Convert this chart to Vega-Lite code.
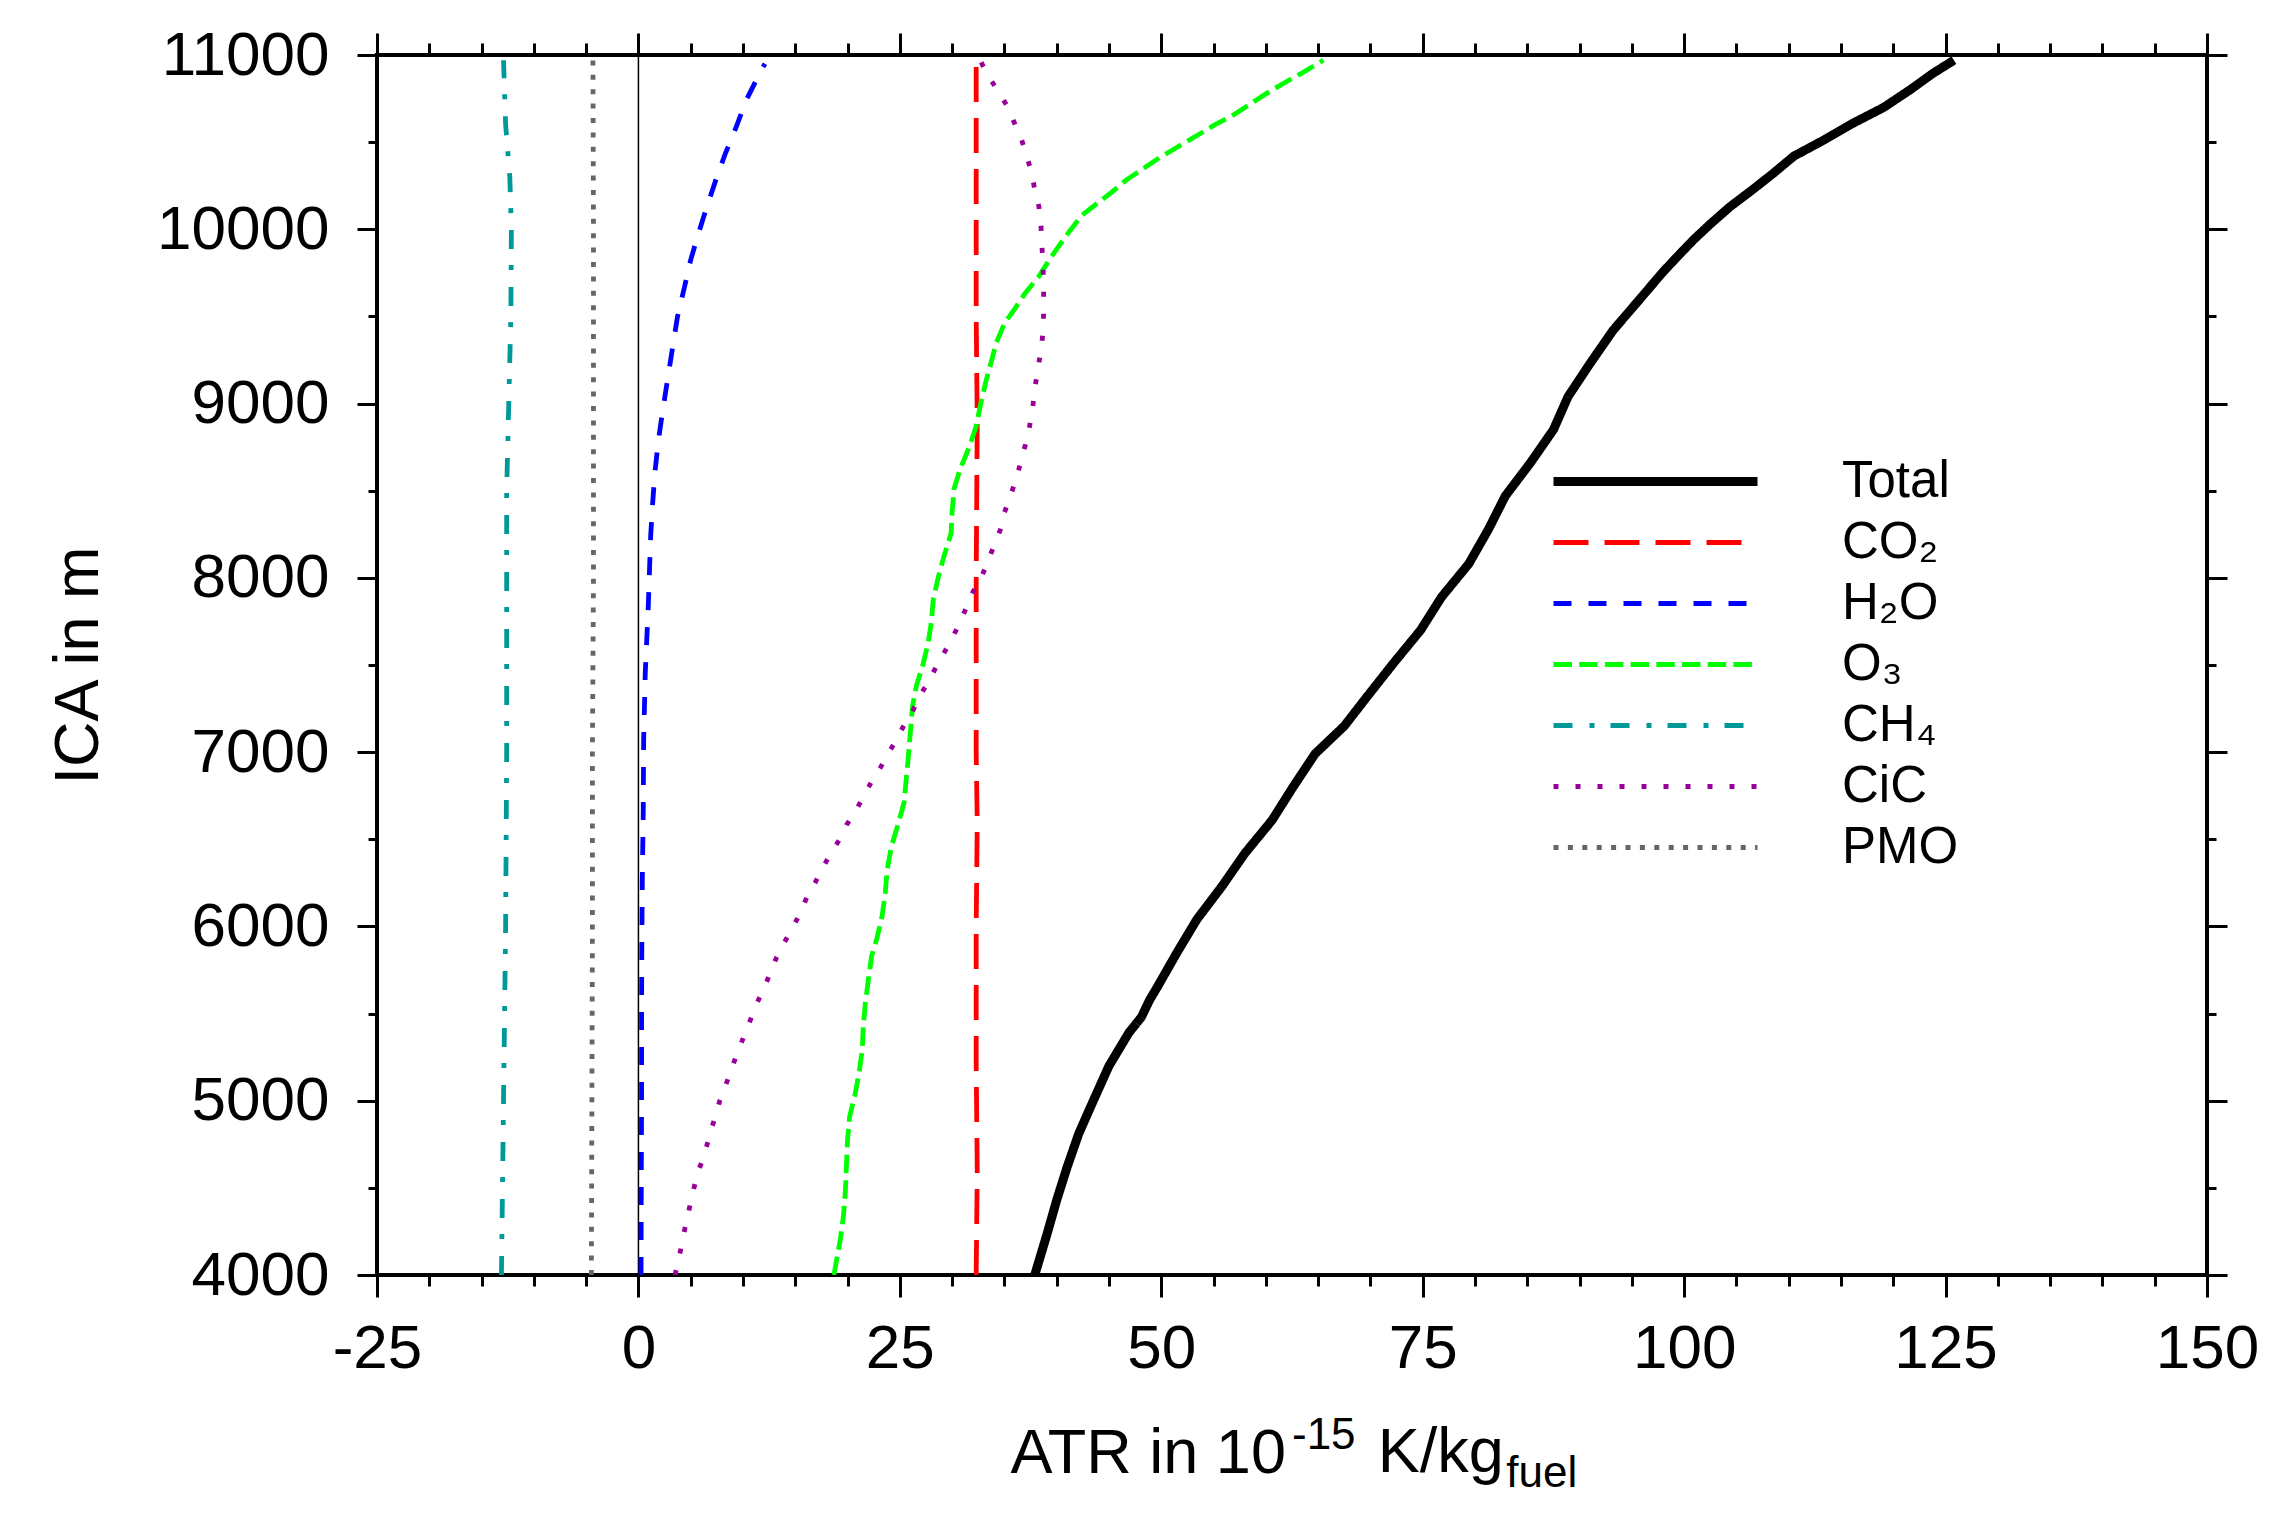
{
  "$schema": "https://vega.github.io/schema/vega-lite/v6.json",
  "width": 1830,
  "height": 1220,
  "autosize": "none",
  "padding": {"left": 377, "top": 55, "right": 77, "bottom": 242},
  "background": "white",
  "config": {
    "view": {"stroke": "black", "strokeWidth": 4},
    "axis": {"grid": false, "domain": false, "tickColor": "black", "tickWidth": 3, "labelFont": "Liberation Sans", "titleFont": "Liberation Sans", "labelColor": "black", "titleColor": "black", "titleFontWeight": "normal", "labelFlush": false, "labelOverlap": false},
    "legend": {"labelFont": "Liberation Sans"}
  },
  "data": {
    "values": [
      {"s": "Total", "a": 4000, "v": 37.9}, {"s": "Total", "a": 4240, "v": 39.1}, {"s": "Total", "a": 4430, "v": 40.0}, {"s": "Total", "a": 4620, "v": 41.0}, {"s": "Total", "a": 4810, "v": 42.1}, {"s": "Total", "a": 5000, "v": 43.5}, {"s": "Total", "a": 5200, "v": 45.0}, {"s": "Total", "a": 5390, "v": 46.9}, {"s": "Total", "a": 5480, "v": 48.1}, {"s": "Total", "a": 5580, "v": 48.9}, {"s": "Total", "a": 5650, "v": 49.6}, {"s": "Total", "a": 5850, "v": 51.5}, {"s": "Total", "a": 6040, "v": 53.4}, {"s": "Total", "a": 6230, "v": 55.8}, {"s": "Total", "a": 6420, "v": 58.0}, {"s": "Total", "a": 6610, "v": 60.6}, {"s": "Total", "a": 6800, "v": 62.6}, {"s": "Total", "a": 6990, "v": 64.7}, {"s": "Total", "a": 7150, "v": 67.5}, {"s": "Total", "a": 7320, "v": 69.7}, {"s": "Total", "a": 7510, "v": 72.2}, {"s": "Total", "a": 7700, "v": 74.8}, {"s": "Total", "a": 7890, "v": 76.8}, {"s": "Total", "a": 8080, "v": 79.4}, {"s": "Total", "a": 8280, "v": 81.3}, {"s": "Total", "a": 8470, "v": 82.9}, {"s": "Total", "a": 8660, "v": 85.3}, {"s": "Total", "a": 8850, "v": 87.5}, {"s": "Total", "a": 9040, "v": 88.9}, {"s": "Total", "a": 9230, "v": 91.0}, {"s": "Total", "a": 9420, "v": 93.2}, {"s": "Total", "a": 9630, "v": 96.2}, {"s": "Total", "a": 9750, "v": 97.9}, {"s": "Total", "a": 9840, "v": 99.3}, {"s": "Total", "a": 9940, "v": 100.9}, {"s": "Total", "a": 10030, "v": 102.5}, {"s": "Total", "a": 10130, "v": 104.4}, {"s": "Total", "a": 10230, "v": 106.6}, {"s": "Total", "a": 10320, "v": 108.5}, {"s": "Total", "a": 10420, "v": 110.5}, {"s": "Total", "a": 10510, "v": 113.3}, {"s": "Total", "a": 10610, "v": 116.2}, {"s": "Total", "a": 10700, "v": 119.1}, {"s": "Total", "a": 10800, "v": 121.6}, {"s": "Total", "a": 10895, "v": 123.8}, {"s": "Total", "a": 10970, "v": 125.8},

      {"s": "CO₂", "a": 4000, "v": 32.3}, {"s": "CO₂", "a": 4600, "v": 32.4}, {"s": "CO₂", "a": 5200, "v": 32.3}, {"s": "CO₂", "a": 6000, "v": 32.3}, {"s": "CO₂", "a": 6600, "v": 32.4}, {"s": "CO₂", "a": 7000, "v": 32.3}, {"s": "CO₂", "a": 8000, "v": 32.3}, {"s": "CO₂", "a": 8900, "v": 32.4}, {"s": "CO₂", "a": 9500, "v": 32.3}, {"s": "CO₂", "a": 10500, "v": 32.3}, {"s": "CO₂", "a": 10970, "v": 32.3},

      {"s": "H₂O", "a": 4000, "v": 0.25}, {"s": "H₂O", "a": 4500, "v": 0.27}, {"s": "H₂O", "a": 5000, "v": 0.3}, {"s": "H₂O", "a": 5480, "v": 0.3}, {"s": "H₂O", "a": 5850, "v": 0.32}, {"s": "H₂O", "a": 6270, "v": 0.37}, {"s": "H₂O", "a": 6650, "v": 0.46}, {"s": "H₂O", "a": 7070, "v": 0.5}, {"s": "H₂O", "a": 7450, "v": 0.65}, {"s": "H₂O", "a": 7835, "v": 0.94}, {"s": "H₂O", "a": 8240, "v": 1.17}, {"s": "H₂O", "a": 8420, "v": 1.35}, {"s": "H₂O", "a": 8600, "v": 1.57}, {"s": "H₂O", "a": 8780, "v": 1.89}, {"s": "H₂O", "a": 8955, "v": 2.31}, {"s": "H₂O", "a": 9135, "v": 2.78}, {"s": "H₂O", "a": 9320, "v": 3.26}, {"s": "H₂O", "a": 9500, "v": 3.74}, {"s": "H₂O", "a": 9660, "v": 4.37}, {"s": "H₂O", "a": 9825, "v": 5.0}, {"s": "H₂O", "a": 9987, "v": 5.8}, {"s": "H₂O", "a": 10140, "v": 6.6}, {"s": "H₂O", "a": 10293, "v": 7.46}, {"s": "H₂O", "a": 10436, "v": 8.32}, {"s": "H₂O", "a": 10590, "v": 9.37}, {"s": "H₂O", "a": 10742, "v": 10.32}, {"s": "H₂O", "a": 10914, "v": 11.75}, {"s": "H₂O", "a": 10950, "v": 12.1},

      {"s": "O₃", "a": 4000, "v": 18.7}, {"s": "O₃", "a": 4070, "v": 18.9}, {"s": "O₃", "a": 4200, "v": 19.3}, {"s": "O₃", "a": 4335, "v": 19.6}, {"s": "O₃", "a": 4490, "v": 19.8}, {"s": "O₃", "a": 4640, "v": 19.9}, {"s": "O₃", "a": 4775, "v": 20.0}, {"s": "O₃", "a": 4910, "v": 20.2}, {"s": "O₃", "a": 5030, "v": 20.7}, {"s": "O₃", "a": 5160, "v": 21.1}, {"s": "O₃", "a": 5290, "v": 21.4}, {"s": "O₃", "a": 5425, "v": 21.5}, {"s": "O₃", "a": 5560, "v": 21.7}, {"s": "O₃", "a": 5700, "v": 22.0}, {"s": "O₃", "a": 5830, "v": 22.3}, {"s": "O₃", "a": 5930, "v": 22.8}, {"s": "O₃", "a": 6060, "v": 23.3}, {"s": "O₃", "a": 6190, "v": 23.6}, {"s": "O₃", "a": 6330, "v": 23.8}, {"s": "O₃", "a": 6460, "v": 24.2}, {"s": "O₃", "a": 6580, "v": 24.8}, {"s": "O₃", "a": 6710, "v": 25.4}, {"s": "O₃", "a": 6840, "v": 25.6}, {"s": "O₃", "a": 6965, "v": 25.8}, {"s": "O₃", "a": 7110, "v": 26.0}, {"s": "O₃", "a": 7260, "v": 26.2}, {"s": "O₃", "a": 7385, "v": 26.6}, {"s": "O₃", "a": 7500, "v": 27.2}, {"s": "O₃", "a": 7625, "v": 27.7}, {"s": "O₃", "a": 7740, "v": 28.0}, {"s": "O₃", "a": 7880, "v": 28.2}, {"s": "O₃", "a": 8010, "v": 28.7}, {"s": "O₃", "a": 8120, "v": 29.2}, {"s": "O₃", "a": 8256, "v": 29.9}, {"s": "O₃", "a": 8380, "v": 30.0}, {"s": "O₃", "a": 8515, "v": 30.2}, {"s": "O₃", "a": 8630, "v": 30.8}, {"s": "O₃", "a": 8745, "v": 31.6}, {"s": "O₃", "a": 8870, "v": 32.3}, {"s": "O₃", "a": 8990, "v": 32.7}, {"s": "O₃", "a": 9120, "v": 33.2}, {"s": "O₃", "a": 9230, "v": 33.7}, {"s": "O₃", "a": 9345, "v": 34.2}, {"s": "O₃", "a": 9460, "v": 35.0}, {"s": "O₃", "a": 9545, "v": 36.0}, {"s": "O₃", "a": 9635, "v": 37.0}, {"s": "O₃", "a": 9730, "v": 38.3}, {"s": "O₃", "a": 9835, "v": 39.4}, {"s": "O₃", "a": 9920, "v": 40.4}, {"s": "O₃", "a": 9995, "v": 41.3}, {"s": "O₃", "a": 10080, "v": 42.4}, {"s": "O₃", "a": 10150, "v": 43.9}, {"s": "O₃", "a": 10215, "v": 45.3}, {"s": "O₃", "a": 10285, "v": 46.7}, {"s": "O₃", "a": 10345, "v": 48.2}, {"s": "O₃", "a": 10410, "v": 49.8}, {"s": "O₃", "a": 10484, "v": 51.9}, {"s": "O₃", "a": 10541, "v": 53.5}, {"s": "O₃", "a": 10599, "v": 55.1}, {"s": "O₃", "a": 10656, "v": 56.9}, {"s": "O₃", "a": 10719, "v": 58.5}, {"s": "O₃", "a": 10777, "v": 60.0}, {"s": "O₃", "a": 10838, "v": 61.7}, {"s": "O₃", "a": 10895, "v": 63.4}, {"s": "O₃", "a": 10970, "v": 65.5},

      {"s": "CH₄", "a": 4000, "v": -13.1}, {"s": "CH₄", "a": 5000, "v": -12.9}, {"s": "CH₄", "a": 6000, "v": -12.7}, {"s": "CH₄", "a": 7000, "v": -12.6}, {"s": "CH₄", "a": 8000, "v": -12.6}, {"s": "CH₄", "a": 8500, "v": -12.6}, {"s": "CH₄", "a": 9000, "v": -12.4}, {"s": "CH₄", "a": 9500, "v": -12.2}, {"s": "CH₄", "a": 10000, "v": -12.15}, {"s": "CH₄", "a": 10300, "v": -12.3}, {"s": "CH₄", "a": 10600, "v": -12.7}, {"s": "CH₄", "a": 10970, "v": -12.9},

      {"s": "CiC", "a": 4000, "v": 3.5}, {"s": "CiC", "a": 4134, "v": 4.0}, {"s": "CiC", "a": 4254, "v": 4.4}, {"s": "CiC", "a": 4377, "v": 4.85}, {"s": "CiC", "a": 4497, "v": 5.3}, {"s": "CiC", "a": 4607, "v": 5.8}, {"s": "CiC", "a": 4698, "v": 6.35}, {"s": "CiC", "a": 4803, "v": 6.8}, {"s": "CiC", "a": 4899, "v": 7.3}, {"s": "CiC", "a": 5004, "v": 7.8}, {"s": "CiC", "a": 5090, "v": 8.35}, {"s": "CiC", "a": 5190, "v": 8.95}, {"s": "CiC", "a": 5281, "v": 9.5}, {"s": "CiC", "a": 5371, "v": 10.1}, {"s": "CiC", "a": 5463, "v": 10.7}, {"s": "CiC", "a": 5555, "v": 11.3}, {"s": "CiC", "a": 5645, "v": 12.0}, {"s": "CiC", "a": 5731, "v": 12.6}, {"s": "CiC", "a": 5821, "v": 13.2}, {"s": "CiC", "a": 5903, "v": 13.9}, {"s": "CiC", "a": 5999, "v": 14.8}, {"s": "CiC", "a": 6079, "v": 15.5}, {"s": "CiC", "a": 6167, "v": 16.1}, {"s": "CiC", "a": 6251, "v": 16.9}, {"s": "CiC", "a": 6334, "v": 17.6}, {"s": "CiC", "a": 6420, "v": 18.4}, {"s": "CiC", "a": 6496, "v": 19.2}, {"s": "CiC", "a": 6582, "v": 19.9}, {"s": "CiC", "a": 6664, "v": 20.8}, {"s": "CiC", "a": 6745, "v": 21.5}, {"s": "CiC", "a": 6831, "v": 22.3}, {"s": "CiC", "a": 6907, "v": 23.1}, {"s": "CiC", "a": 6994, "v": 23.9}, {"s": "CiC", "a": 7073, "v": 24.7}, {"s": "CiC", "a": 7156, "v": 25.4}, {"s": "CiC", "a": 7232, "v": 26.2}, {"s": "CiC", "a": 7322, "v": 26.9}, {"s": "CiC", "a": 7401, "v": 27.7}, {"s": "CiC", "a": 7481, "v": 28.4}, {"s": "CiC", "a": 7567, "v": 29.2}, {"s": "CiC", "a": 7653, "v": 30.0}, {"s": "CiC", "a": 7739, "v": 30.7}, {"s": "CiC", "a": 7835, "v": 31.4}, {"s": "CiC", "a": 7921, "v": 32.0}, {"s": "CiC", "a": 8003, "v": 32.8}, {"s": "CiC", "a": 8093, "v": 33.4}, {"s": "CiC", "a": 8185, "v": 34.0}, {"s": "CiC", "a": 8275, "v": 34.6}, {"s": "CiC", "a": 8374, "v": 35.0}, {"s": "CiC", "a": 8476, "v": 35.6}, {"s": "CiC", "a": 8562, "v": 36.1}, {"s": "CiC", "a": 8673, "v": 36.6}, {"s": "CiC", "a": 8763, "v": 37.0}, {"s": "CiC", "a": 8868, "v": 37.4}, {"s": "CiC", "a": 8973, "v": 37.7}, {"s": "CiC", "a": 9084, "v": 37.9}, {"s": "CiC", "a": 9197, "v": 38.2}, {"s": "CiC", "a": 9308, "v": 38.5}, {"s": "CiC", "a": 9417, "v": 38.7}, {"s": "CiC", "a": 9528, "v": 38.75}, {"s": "CiC", "a": 9652, "v": 38.75}, {"s": "CiC", "a": 9771, "v": 38.7}, {"s": "CiC", "a": 9891, "v": 38.6}, {"s": "CiC", "a": 10015, "v": 38.5}, {"s": "CiC", "a": 10130, "v": 38.3}, {"s": "CiC", "a": 10226, "v": 37.9}, {"s": "CiC", "a": 10325, "v": 37.6}, {"s": "CiC", "a": 10427, "v": 37.1}, {"s": "CiC", "a": 10522, "v": 36.6}, {"s": "CiC", "a": 10618, "v": 35.9}, {"s": "CiC", "a": 10704, "v": 35.3}, {"s": "CiC", "a": 10781, "v": 34.5}, {"s": "CiC", "a": 10857, "v": 33.7}, {"s": "CiC", "a": 10943, "v": 32.9}, {"s": "CiC", "a": 10970, "v": 32.7},

      {"s": "PMO", "a": 4000, "v": -4.5}, {"s": "PMO", "a": 5000, "v": -4.45}, {"s": "PMO", "a": 6000, "v": -4.4}, {"s": "PMO", "a": 7000, "v": -4.4}, {"s": "PMO", "a": 8000, "v": -4.3}, {"s": "PMO", "a": 9000, "v": -4.3}, {"s": "PMO", "a": 10000, "v": -4.3}, {"s": "PMO", "a": 10970, "v": -4.35}
    ]
  },
  "resolve": {"axis": {"x": "independent", "y": "independent"}},
  "layer": [
    {
      "data": {"values": [{}]},
      "mark": {"type": "rule", "color": "black", "strokeWidth": 1.5},
      "encoding": {
        "x": {"datum": 0, "type": "quantitative",
          "axis": {"orient": "bottom", "values": [-25, -20, -15, -10, -5, 0, 5, 10, 15, 20, 25, 30, 35, 40, 45, 50, 55, 60, 65, 70, 75, 80, 85, 90, 95, 100, 105, 110, 115, 120, 125, 130, 135, 140, 145, 150], "tickSize": 11, "labels": false, "title": null}},
        "y": {"datum": 4000, "type": "quantitative",
          "axis": {"orient": "left", "values": [4000, 4500, 5000, 5500, 6000, 6500, 7000, 7500, 8000, 8500, 9000, 9500, 10000, 10500, 11000], "tickSize": 9, "labels": false, "title": null}},
        "y2": {"datum": 11000}
      }
    },
    {
      "transform": [{"filter": "datum.s !== 'Total'"}],
      "mark": {"type": "line", "clip": true, "strokeWidth": 4.8},
      "encoding": {
        "x": {"field": "v", "type": "quantitative",
          "scale": {"domain": [-25, 150], "nice": false, "zero": false},
          "axis": {"orient": "bottom", "values": [-25, 0, 25, 50, 75, 100, 125, 150], "tickSize": 22, "labelFontSize": 62, "labelPadding": 21, "labelExpr": "'' + datum.value",
            "title": "ATR in 10", "titleFontSize": 63, "titleX": 633, "titleY": 197, "titleAlign": "left", "titleBaseline": "alphabetic"}},
        "y": {"field": "a", "type": "quantitative",
          "scale": {"domain": [4000, 11000], "nice": false, "zero": false},
          "axis": {"orient": "left", "values": [4000, 5000, 6000, 7000, 8000, 9000, 10000, 11000], "tickSize": 20, "labelFontSize": 62, "labelPadding": 28, "labelExpr": "'' + datum.value",
            "title": "ICA in m", "titleFontSize": 63, "titleAngle": -90, "titleX": -280, "titleY": 610, "titleAlign": "center", "titleBaseline": "alphabetic"}},
        "order": {"field": "a", "type": "quantitative"},
        "color": {"field": "s", "type": "nominal",
          "scale": {"domain": ["Total", "CO₂", "H₂O", "O₃", "CH₄", "CiC", "PMO"], "range": ["#000000", "#ff0000", "#0000ff", "#00ff00", "#009999", "#990099", "#666666"]},
          "legend": {"orient": "none", "legendX": 1174, "legendY": 396, "title": null, "symbolType": "stroke", "symbolSize": 41616, "clipHeight": 61, "rowPadding": 0, "labelOffset": 82, "labelFontSize": 51, "labelColor": "black", "labelLimit": 500, "padding": 0,
            "encode": {"symbols": {"update": {"strokeWidth": {"signal": "(datum.value === 'Total' ? 9 : 5)"}}}}}},
        "strokeDash": {"field": "s", "type": "nominal",
          "scale": {"domain": ["Total", "CO₂", "H₂O", "O₃", "CH₄", "CiC", "PMO"], "range": [[1, 0], [35, 16], [18, 17], [18.5, 7.2], [19, 17, 5, 16], [5, 17], [5, 9.4]]},
          "legend": {"orient": "none", "legendX": 1174, "legendY": 396, "title": null, "symbolType": "stroke", "symbolSize": 41616, "clipHeight": 61, "rowPadding": 0, "labelOffset": 82, "labelFontSize": 51, "labelColor": "black", "labelLimit": 500, "padding": 0,
            "encode": {"symbols": {"update": {"strokeWidth": {"signal": "(datum.value === 'Total' ? 9 : 5)"}}}}}}
      }
    },
    {
      "transform": [{"filter": "datum.s === 'Total'"}],
      "mark": {"type": "line", "clip": true, "strokeWidth": 9},
      "encoding": {
        "x": {"field": "v", "type": "quantitative",
          "axis": {"orient": "top", "values": [-25, 0, 25, 50, 75, 100, 125, 150], "tickSize": 22, "labels": false, "title": null}},
        "y": {"field": "a", "type": "quantitative",
          "axis": {"orient": "right", "values": [4000, 5000, 6000, 7000, 8000, 9000, 10000, 11000], "tickSize": 20, "labels": false, "title": null}},
        "order": {"field": "a", "type": "quantitative"},
        "color": {"field": "s", "type": "nominal"},
        "strokeDash": {"field": "s", "type": "nominal"}
      }
    },
    {
      "data": {"values": [{"t": "-15"}]},
      "mark": {"type": "text", "font": "Liberation Sans", "fontSize": 44, "align": "left", "baseline": "alphabetic", "color": "black"},
      "encoding": {
        "text": {"field": "t"},
        "x": {"datum": 62.5, "type": "quantitative",
          "axis": {"orient": "top", "values": [-25, -20, -15, -10, -5, 0, 5, 10, 15, 20, 25, 30, 35, 40, 45, 50, 55, 60, 65, 70, 75, 80, 85, 90, 95, 100, 105, 110, 115, 120, 125, 130, 135, 140, 145, 150], "tickSize": 12, "labels": false, "title": null}},
        "y": {"datum": 3001, "type": "quantitative",
          "axis": {"orient": "right", "values": [4000, 4500, 5000, 5500, 6000, 6500, 7000, 7500, 8000, 8500, 9000, 9500, 10000, 10500, 11000], "tickSize": 9, "labels": false, "title": null}}
      }
    },
    {
      "data": {"values": [{"t": "K/kg"}]},
      "mark": {"type": "text", "font": "Liberation Sans", "fontSize": 63, "align": "left", "baseline": "alphabetic", "color": "black"},
      "encoding": {
        "text": {"field": "t"},
        "x": {"datum": 70.7, "type": "quantitative", "axis": null},
        "y": {"datum": 2870, "type": "quantitative", "axis": null}
      }
    },
    {
      "data": {"values": [{"t": "fuel"}]},
      "mark": {"type": "text", "font": "Liberation Sans", "fontSize": 44, "align": "left", "baseline": "alphabetic", "color": "black"},
      "encoding": {
        "text": {"field": "t"},
        "x": {"datum": 83, "type": "quantitative", "axis": null},
        "y": {"datum": 2784, "type": "quantitative", "axis": null}
      }
    }
  ]
}
